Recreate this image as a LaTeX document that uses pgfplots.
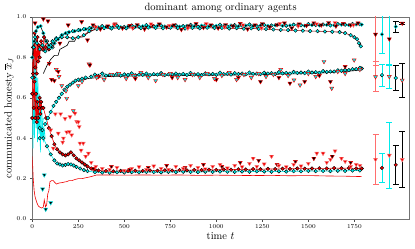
\documentclass[border=0pt]{standalone}
\usepackage{pgfplots}
\pgfplotsset{compat=1.18}
\definecolor{myred}{RGB}{240,0,0}
\definecolor{mycyan}{RGB}{0,235,235}
\definecolor{barred}{RGB}{255,110,110}
\pgfplotsset{
 cbk/.style={mark=*, mark size=1.8pt, mark options={fill=black, draw=mycyan, line width=0.4pt, solid}},
 ccy/.style={mark=*, mark size=1.8pt, mark options={fill=mycyan, draw=black, line width=0.4pt, solid}},
 crd/.style={mark=*, mark size=1.8pt, mark options={fill=myred, draw=black, line width=0.4pt, solid}},
 tbk/.style={mark=triangle*, mark size=2.3pt, mark options={rotate=180, fill=black, draw=myred, line width=0.45pt, solid}},
 tcy/.style={mark=triangle*, mark size=2.3pt, mark options={rotate=180, fill=mycyan, draw=myred, line width=0.45pt, solid}},
 trd/.style={mark=triangle*, mark size=2.3pt, mark options={rotate=180, fill=myred, draw=myred!50, line width=0.45pt, solid}},
 trb/.style={mark=triangle*, mark size=2.3pt, mark options={rotate=180, fill=black, draw=mycyan, line width=0.45pt, solid}},
}
\newcommand{\EB}[5]{\addplot[only marks, #2, error bars/.cd, y dir=both, y explicit,
  error bar style={draw=#1, line width=0.8pt},
  error mark options={rotate=90, draw=#1, mark size=3pt, line width=0.8pt}]
  coordinates {(#3,#4) +- (0,#5)};}
\begin{document}
\begin{tikzpicture}
\begin{axis}[
 width=376.7pt, height=202pt, scale only axis,
 xmin=0, xmax=2047, ymin=0, ymax=1,
 xtick={0,250,500,750,1000,1250,1500,1750},
 ytick={0,0.2,0.4,0.6,0.8,1},
 yticklabel style={/pgf/number format/.cd, fixed, fixed zerofill, precision=1},
 xticklabel style={/pgf/number format/set thousands separator={}},
 scaled x ticks=false,
 tick align=outside, tick pos=left, major tick length=2.5pt,
 tick label style={font=\fontsize{6.5}{7}\selectfont},
 axis line style={black!55, line width=0.6pt},
 every tick/.style={black!70},
 title={dominant among ordinary agents},
 title style={font=\fontsize{10.5}{12}\selectfont, yshift=-5pt},
 xlabel={time $t$}, ylabel={communicated honesty $\overline{x}_J$},
 label style={font=\fontsize{10.5}{12}\selectfont},
 xlabel style={yshift=3pt}, ylabel style={yshift=-4pt},
 clip=true,
]
% ---------- early noisy trajectories ----------
\addplot[mycyan, line width=0.6pt] coordinates {(0,0.55)(4,0.35)(8,0.65)(12,0.4)(16,0.8)(20,0.45)(24,0.7)(28,0.38)(32,0.6)(36,0.42)(40,0.55)(44,0.33)(48,0.5)(52,0.4)(56,0.47)(60,0.38)(65,0.45)(70,0.4)};
\addplot[mycyan, line width=0.6pt] coordinates {(0,0.9)(5,0.7)(10,0.85)(15,0.6)(20,0.75)(25,0.55)(30,0.7)(35,0.5)(40,0.62)(45,0.48)(50,0.58)(55,0.45)(60,0.5)};
\addplot[myred, line width=0.6pt, crd] coordinates {(0,0.62)(4,0.85)(8,0.7)(12,0.92)(16,0.75)(20,0.88)(24,0.72)(28,0.9)(32,0.78)(36,0.86)(40,0.8)(48,0.88)(56,0.84)(64,0.9)(72,0.85)(80,0.88)(90,0.84)(100,0.86)(110,0.85)(120,0.87)};
% ---------- low red line ----------
\addplot[myred, line width=0.6pt] coordinates {(0,0.31)(5,0.2)(10,0.14)(15,0.11)(25,0.08)(33,0.064)(42,0.058)(51,0.054)(60,0.06)(65,0.094)(72,0.06)(78,0.07)(84,0.124)(90,0.14)(96,0.185)(105,0.19)(114,0.19)(123,0.18)(132,0.173)(145,0.178)(160,0.18)(175,0.183)(187,0.185)(200,0.19)(215,0.19)(230,0.195)(250,0.2)(270,0.2)(295,0.205)(320,0.21)(350,0.218)(400,0.218)(500,0.217)(600,0.218)(700,0.217)(800,0.218)(900,0.216)(1000,0.217)(1100,0.216)(1200,0.215)(1300,0.216)(1400,0.214)(1500,0.215)(1600,0.213)(1700,0.212)(1790,0.21)};
\addplot[only marks, trb] coordinates {(56,0.148)(65,0.218)(73,0.048)(100,0.08)};
% ---------- low group ----------
\addplot[mycyan, line width=0.6pt, ccy] coordinates {(20,0.5)(40,0.45)(60,0.4)(80,0.36)(100,0.32)(120,0.29)(135,0.275)(150,0.27)(165,0.265)(180,0.268)(195,0.272)(210,0.27)(225,0.265)(240,0.258)(260,0.25)(280,0.242)(300,0.237)(340,0.232)(380,0.23)(420,0.229)(460,0.231)(500,0.23)(540,0.232)(580,0.231)(620,0.233)(660,0.232)(700,0.231)(740,0.233)(780,0.232)(820,0.234)(860,0.233)(900,0.232)(940,0.234)(980,0.233)(1020,0.235)(1060,0.234)(1100,0.233)(1140,0.235)(1180,0.234)(1220,0.236)(1260,0.235)(1300,0.234)(1340,0.236)(1380,0.235)(1420,0.237)(1460,0.236)(1500,0.238)(1540,0.237)(1580,0.238)(1620,0.237)(1660,0.239)(1700,0.238)(1740,0.24)(1780,0.24)};
\addplot[myred, line width=0.6pt, crd] coordinates {(0,0.5)(4,0.72)(8,0.55)(12,0.68)(16,0.5)(20,0.62)(24,0.48)(28,0.58)(32,0.5)(36,0.55)(40,0.6)(44,0.52)(48,0.58)(52,0.55)(60,0.55)(75,0.5)(90,0.45)(105,0.41)(120,0.37)(135,0.345)(150,0.33)(165,0.32)(180,0.315)(195,0.32)(210,0.33)(225,0.315)(240,0.3)(255,0.29)(270,0.28)(285,0.27)(300,0.26)(320,0.25)(340,0.245)(360,0.24)(400,0.238)(440,0.236)(480,0.238)(520,0.237)(560,0.239)(600,0.238)(640,0.24)(680,0.239)(720,0.241)(760,0.24)(800,0.242)(840,0.241)(880,0.243)(920,0.242)(960,0.244)(1000,0.243)(1040,0.245)(1080,0.244)(1120,0.246)(1160,0.245)(1200,0.247)(1240,0.246)(1280,0.248)(1320,0.247)(1360,0.249)(1400,0.248)(1440,0.25)(1480,0.249)(1520,0.25)(1560,0.251)(1600,0.25)(1640,0.252)(1680,0.251)(1720,0.252)(1760,0.25)(1790,0.25)};
\addplot[only marks, tbk] coordinates {(330,0.25)(430,0.26)(530,0.245)(630,0.255)(730,0.265)(830,0.255)(930,0.27)(1030,0.26)(1130,0.28)(1230,0.29)(1330,0.27)(1430,0.285)(1530,0.3)(1630,0.31)(1730,0.28)};
\addplot[only marks, trd] coordinates {(100,0.44)(114,0.35)(125,0.52)(141,0.424)(154,0.52)(165,0.38)(169,0.40)(178,0.497)(187,0.43)(201,0.432)(205,0.506)(214,0.416)(232,0.523)(241,0.482)(250,0.48)(255,0.457)(259,0.375)(265,0.34)(277,0.375)(290,0.31)(305,0.325)(320,0.28)(345,0.26)(380,0.25)(420,0.245)(460,0.255)(500,0.24)(540,0.25)(580,0.258)(620,0.245)(660,0.262)(700,0.25)(740,0.245)(780,0.26)(820,0.25)(860,0.265)(900,0.255)(940,0.248)(980,0.26)(1020,0.27)(1060,0.252)(1100,0.265)(1140,0.258)(1180,0.275)(1200,0.30)(1220,0.26)(1260,0.272)(1300,0.31)(1340,0.265)(1380,0.258)(1420,0.27)(1460,0.262)(1500,0.275)(1546,0.325)(1580,0.325)(1600,0.28)(1620,0.295)(1645,0.337)(1680,0.3)(1700,0.285)(1730,0.26)(1760,0.27)(1780,0.265)};
% ---------- mid group ----------
\addplot[black, line width=0.6pt] coordinates {(250,0.68)(300,0.695)(400,0.705)(500,0.707)(600,0.709)(700,0.71)(800,0.71)(900,0.711)(1000,0.712)(1100,0.713)(1200,0.714)(1300,0.716)(1400,0.718)(1500,0.72)(1600,0.724)(1700,0.73)(1790,0.738)};
\addplot[mycyan, line width=0.6pt, ccy] coordinates {(40,0.40)(55,0.44)(70,0.47)(85,0.5)(100,0.53)(115,0.56)(130,0.58)(145,0.6)(160,0.62)(175,0.64)(190,0.655)(205,0.665)(220,0.675)(235,0.685)(250,0.69)(270,0.695)(290,0.7)(320,0.705)(360,0.708)(400,0.71)(440,0.712)(480,0.71)(520,0.713)(560,0.711)(600,0.714)(640,0.712)(680,0.715)(720,0.713)(760,0.716)(800,0.714)(840,0.713)(880,0.715)(920,0.712)(960,0.716)(1000,0.714)(1040,0.717)(1080,0.715)(1120,0.718)(1160,0.716)(1200,0.719)(1240,0.717)(1280,0.72)(1320,0.718)(1360,0.721)(1400,0.72)(1440,0.723)(1480,0.722)(1520,0.725)(1560,0.724)(1600,0.728)(1640,0.73)(1680,0.734)(1720,0.737)(1760,0.742)(1790,0.745)};
\addplot[mycyan, line width=0.5pt, ccy] coordinates {(340,0.715)(380,0.72)(420,0.714)(460,0.719)(500,0.716)(540,0.721)(580,0.715)(620,0.72)(660,0.717)(700,0.722)(740,0.716)(780,0.72)(820,0.718)(860,0.723)(900,0.717)(940,0.721)(980,0.718)(1020,0.724)(1060,0.719)(1100,0.722)(1140,0.72)(1180,0.725)(1220,0.72)(1260,0.724)(1300,0.722)(1340,0.727)(1380,0.723)(1420,0.728)(1460,0.725)(1500,0.73)(1540,0.727)(1580,0.732)(1620,0.73)(1660,0.736)(1700,0.738)(1740,0.742)(1780,0.748)};
\addplot[only marks, tbk] coordinates {(105,0.69)(120,0.685)(360,0.705)(560,0.695)(760,0.7)(1000,0.69)(1120,0.7)(1240,0.68)(1340,0.7)(1400,0.672)(1480,0.68)(1560,0.71)(1620,0.68)(1700,0.755)};
\addplot[only marks, tcy] coordinates {(130,0.74)(145,0.705)(160,0.66)(183,0.634)(187,0.597)(223,0.536)(250,0.66)(270,0.68)(308,0.767)(350,0.7)(390,0.69)(430,0.715)(470,0.72)(510,0.695)(550,0.71)(590,0.725)(630,0.7)(670,0.685)(710,0.715)(750,0.72)(790,0.7)(830,0.69)(870,0.715)(910,0.7)(950,0.72)(990,0.695)(1030,0.71)(1070,0.725)(1110,0.69)(1150,0.715)(1190,0.7)(1230,0.72)(1270,0.705)(1310,0.715)(1350,0.74)(1390,0.71)(1422,0.688)(1455,0.663)(1500,0.72)(1540,0.705)(1585,0.779)(1627,0.647)(1660,0.73)(1700,0.72)(1749,0.787)(1780,0.74)};
% ---------- top group ----------
\addplot[black, line width=0.6pt] coordinates {(60,0.72)(80,0.76)(100,0.79)(120,0.81)(140,0.81)(150,0.84)(170,0.85)(190,0.86)(200,0.88)(230,0.88)(240,0.9)(270,0.9)(300,0.92)(330,0.935)(360,0.945)(400,0.95)};
\addplot[black!40!myred, line width=0.6pt, ccy] coordinates {(0,0.70)(8,0.85)(15,0.9)(25,0.87)(40,0.84)(55,0.86)(70,0.83)(90,0.85)(110,0.88)(130,0.895)(160,0.9)(190,0.9)(220,0.895)(250,0.9)(280,0.91)(310,0.93)(350,0.94)(390,0.945)(430,0.943)(470,0.946)(510,0.944)(550,0.947)(590,0.945)(630,0.948)(670,0.946)(710,0.944)(750,0.947)(790,0.945)(830,0.943)(870,0.946)(910,0.944)(950,0.947)(990,0.945)(1030,0.946)(1070,0.943)(1110,0.945)(1150,0.942)(1190,0.944)(1230,0.941)(1270,0.94)(1310,0.938)(1350,0.936)(1390,0.935)(1430,0.933)(1470,0.932)(1510,0.93)(1550,0.93)(1590,0.928)(1630,0.927)(1670,0.925)(1700,0.92)(1730,0.91)(1750,0.9)(1765,0.89)(1775,0.87)(1785,0.855)};
\addplot[mycyan, line width=0.5pt, ccy] coordinates {(100,0.86)(130,0.89)(160,0.91)(190,0.92)(220,0.93)(250,0.935)(280,0.94)(310,0.945)(340,0.952)(380,0.955)(420,0.949)(460,0.957)(500,0.951)(540,0.958)(580,0.953)(620,0.96)(660,0.954)(700,0.958)(740,0.951)(780,0.959)(820,0.955)(860,0.961)(900,0.952)(940,0.96)(980,0.956)(1020,0.962)(1060,0.953)(1100,0.96)(1140,0.957)(1180,0.963)(1220,0.955)(1260,0.961)(1300,0.958)(1340,0.964)(1380,0.957)(1420,0.962)(1460,0.959)(1500,0.965)(1540,0.96)(1580,0.963)(1620,0.958)(1660,0.965)(1700,0.962)(1740,0.966)(1780,0.964)};
\addplot[black, line width=0.6pt, cbk] coordinates {(0,0.80)(10,0.88)(20,0.93)(30,0.95)(45,0.955)(60,0.92)(75,0.88)(90,0.86)(105,0.85)(120,0.87)(140,0.89)(160,0.91)(180,0.92)(200,0.925)(230,0.93)(260,0.935)(290,0.94)(320,0.945)(360,0.948)(400,0.95)(440,0.952)(480,0.95)(520,0.953)(560,0.951)(600,0.954)(640,0.952)(680,0.956)(720,0.953)(760,0.955)(800,0.952)(840,0.956)(880,0.954)(920,0.957)(960,0.953)(1000,0.956)(1040,0.955)(1080,0.958)(1120,0.954)(1160,0.957)(1200,0.955)(1240,0.958)(1280,0.956)(1320,0.959)(1360,0.956)(1400,0.958)(1440,0.96)(1480,0.957)(1520,0.96)(1560,0.958)(1600,0.961)(1640,0.959)(1680,0.962)(1720,0.96)(1760,0.963)(1790,0.962)};
\addplot[only marks, tbk] coordinates {(15,0.97)(60,0.99)(85,0.98)(92,0.77)(141,0.73)(150,0.87)(195,0.96)(268,0.976)(300,0.886)(313,0.762)(330,0.96)(370,0.94)(410,0.955)(450,0.965)(490,0.945)(530,0.958)(570,0.962)(610,0.94)(650,0.957)(690,0.965)(730,0.95)(770,0.96)(810,0.938)(850,0.955)(890,0.966)(930,0.948)(970,0.96)(1010,0.945)(1050,0.962)(1090,0.955)(1130,0.968)(1170,0.94)(1210,0.96)(1250,0.967)(1290,0.95)(1330,0.962)(1370,0.97)(1410,0.945)(1450,0.965)(1490,0.958)(1530,0.97)(1570,0.96)(1610,0.972)(1650,0.955)(1690,0.968)(1730,0.96)(1770,0.97)};
\addplot[only marks, trd] coordinates {(345,0.95)(445,0.962)(545,0.945)(645,0.965)(745,0.958)(845,0.945)(945,0.966)(1045,0.95)(1145,0.96)(1245,0.945)(1345,0.968)(1445,0.955)(1545,0.965)(1645,0.972)(1745,0.96)};
% ---------- summary error bars ----------
\EB{barred}{tbk}{1865}{0.914}{0.152}
\EB{barred}{tcy}{1865}{0.704}{0.074}
\EB{barred}{trd}{1865}{0.295}{0.126}
\EB{mycyan}{cbk}{1900}{0.914}{0.094}
\EB{mycyan}{ccy}{1900}{0.712}{0.054}
\EB{mycyan}{crd}{1900}{0.253}{0.073}
\EB{mycyan}{tbk}{1940}{0.891}{0.13}
\EB{mycyan}{tcy}{1940}{0.705}{0.06}
\EB{mycyan}{trd}{1940}{0.315}{0.163}
\EB{black}{cbk}{1975}{0.952}{0.027}
\EB{black}{ccy}{1975}{0.698}{0.06}
\EB{black}{crd}{1975}{0.268}{0.095}
\EB{black}{tbk}{2010}{0.969}{0.006}
\EB{black}{tcy}{2010}{0.687}{0.085}
\EB{black}{trd}{2010}{0.294}{0.138}
\end{axis}
\pgfresetboundingbox
\path[use as bounding box] (-32.3pt,-30pt) rectangle (382.7pt,219pt);
\end{tikzpicture}
\end{document}
